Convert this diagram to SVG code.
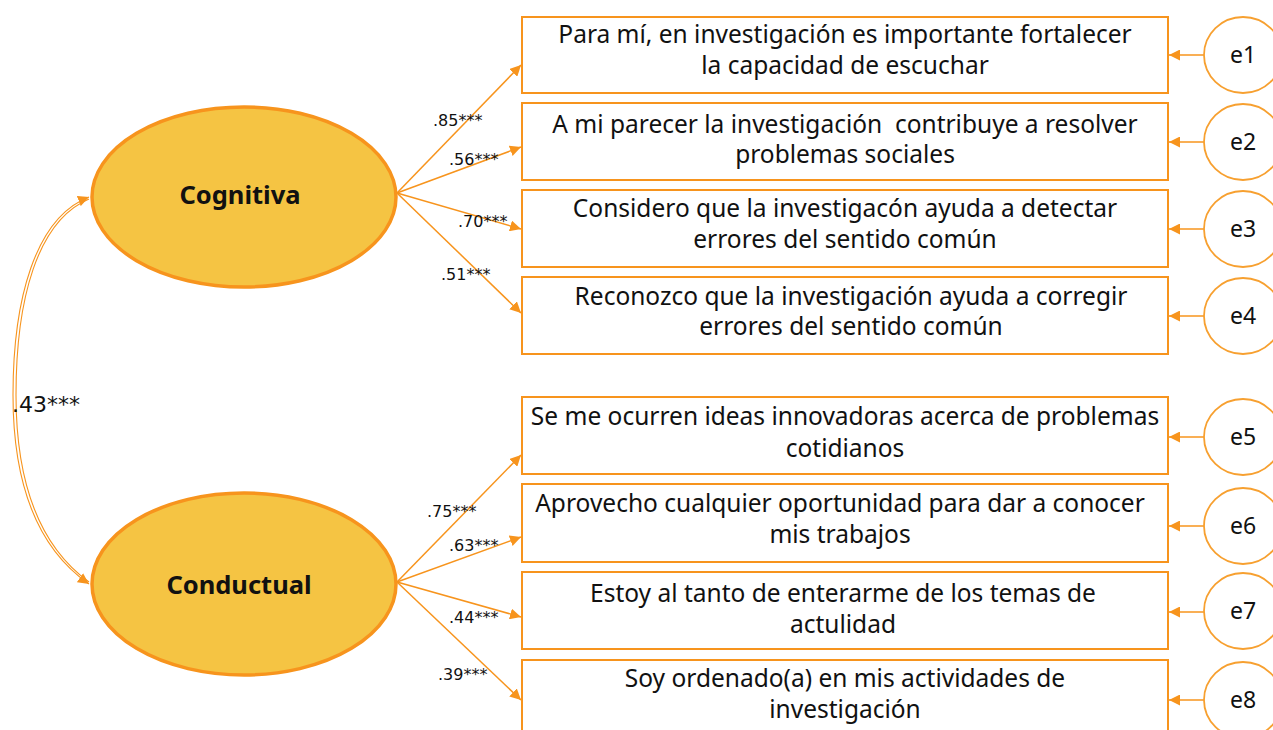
<svg xmlns="http://www.w3.org/2000/svg" width="1273" height="730" viewBox="0 0 1273 730">
<style>
.box{fill:#fff;stroke:#F7941D;stroke-width:2}
.lat{fill:#F5C443;stroke:#F7941D;stroke-width:3.5}
.err{fill:#fff;stroke:#F7A030;stroke-width:1.8}
.con{stroke:#F7941D;stroke-width:1.5;fill:none}
.bt{font-family:"Noto Sans","DejaVu Sans",sans-serif;font-size:24.5px;fill:#111;text-anchor:middle}
.lt{font-family:"Noto Sans","DejaVu Sans",sans-serif;font-size:25.5px;font-weight:bold;fill:#111;text-anchor:middle}
.et{font-family:"Noto Sans","DejaVu Sans",sans-serif;font-size:23px;fill:#111;text-anchor:middle}
.lab{font-family:"DejaVu Sans",sans-serif;font-size:16px;fill:#111}
</style>
<defs>
<marker id="ah" viewBox="0 0 10 10" refX="10" refY="5" markerWidth="11" markerHeight="11" markerUnits="userSpaceOnUse" orient="auto-start-reverse">
<path d="M0,0 L10,5 L0,10 z" fill="#F7941D"/>
</marker>
</defs>
<g id="connectors">
<line class="con" x1="397" y1="193" x2="521" y2="65" marker-end="url(#ah)"/>
<line class="con" x1="397" y1="193" x2="521" y2="147" marker-end="url(#ah)"/>
<line class="con" x1="397" y1="193" x2="521" y2="229" marker-end="url(#ah)"/>
<line class="con" x1="397" y1="193" x2="521" y2="313" marker-end="url(#ah)"/>
<line class="con" x1="397" y1="582" x2="521" y2="455" marker-end="url(#ah)"/>
<line class="con" x1="397" y1="582" x2="521" y2="537" marker-end="url(#ah)"/>
<line class="con" x1="397" y1="582" x2="521" y2="617" marker-end="url(#ah)"/>
<line class="con" x1="397" y1="582" x2="521" y2="700" marker-end="url(#ah)"/>
<line class="con" x1="1204" y1="55" x2="1169" y2="55" marker-end="url(#ah)"/>
<line class="con" x1="1204" y1="142" x2="1169" y2="142" marker-end="url(#ah)"/>
<line class="con" x1="1204" y1="229" x2="1169" y2="229" marker-end="url(#ah)"/>
<line class="con" x1="1204" y1="316" x2="1169" y2="316" marker-end="url(#ah)"/>
<line class="con" x1="1204" y1="437" x2="1169" y2="437" marker-end="url(#ah)"/>
<line class="con" x1="1204" y1="526" x2="1169" y2="526" marker-end="url(#ah)"/>
<line class="con" x1="1204" y1="612" x2="1169" y2="612" marker-end="url(#ah)"/>
<line class="con" x1="1204" y1="700" x2="1169" y2="700" marker-end="url(#ah)"/>
<path d="M89,197 C35,218 13,300 13,395 C13,490 40,550 89,584" stroke="#F7941D" stroke-width="1.1" fill="none" marker-start="url(#ah)" marker-end="url(#ah)"/>
<path d="M89,199 C37,221 16,300 16,395 C16,488 42,548 89,582" stroke="#F7941D" stroke-width="1.1" fill="none"/>
<text class="lab" x="433" y="126">.85***</text>
<text class="lab" x="449" y="165">.56***</text>
<text class="lab" x="458" y="227">.70***</text>
<text class="lab" x="441" y="280">.51***</text>
<text class="lab" x="427" y="517">.75***</text>
<text class="lab" x="449" y="551">.63***</text>
<text class="lab" x="449" y="623">.44***</text>
<text class="lab" x="438" y="680">.39***</text>
<text class="lab" x="12" y="412" style="font-size:22px">.43***</text>
</g>
<g id="Cognitiva">
<ellipse class="lat" cx="244" cy="197" rx="152" ry="90"/>
<text class="lt" x="240" y="204">Cognitiva</text>
</g>
<g id="Conductual">
<ellipse class="lat" cx="244" cy="584" rx="152" ry="91"/>
<text class="lt" x="239" y="594">Conductual</text>
</g>
<g id="item1">
<rect class="box" x="522" y="17" width="646" height="76"/>
<text class="bt" x="845" y="43">Para mí, en investigación es importante fortalecer</text>
<text class="bt" x="845" y="74">la capacidad de escuchar</text>
</g>
<g id="item2">
<rect class="box" x="522" y="103" width="646" height="77"/>
<text class="bt" x="845" y="133" xml:space="preserve">A mi parecer la investigación  contribuye a resolver</text>
<text class="bt" x="845" y="163">problemas sociales</text>
</g>
<g id="item3">
<rect class="box" x="522" y="190" width="646" height="77"/>
<text class="bt" x="845" y="217">Considero que la investigacón ayuda a detectar</text>
<text class="bt" x="845" y="248">errores del sentido común</text>
</g>
<g id="item4">
<rect class="box" x="522" y="277" width="646" height="77"/>
<text class="bt" x="851" y="305">Reconozco que la investigación ayuda a corregir</text>
<text class="bt" x="851" y="335">errores del sentido común</text>
</g>
<g id="item5">
<rect class="box" x="522" y="397" width="646" height="77"/>
<text class="bt" x="845" y="425">Se me ocurren ideas innovadoras acerca de problemas</text>
<text class="bt" x="845" y="457">cotidianos</text>
</g>
<g id="item6">
<rect class="box" x="522" y="484" width="646" height="78"/>
<text class="bt" x="840" y="512">Aprovecho cualquier oportunidad para dar a conocer</text>
<text class="bt" x="840" y="543">mis trabajos</text>
</g>
<g id="item7">
<rect class="box" x="522" y="572" width="646" height="77"/>
<text class="bt" x="843" y="602">Estoy al tanto de enterarme de los temas de</text>
<text class="bt" x="843" y="633">actulidad</text>
</g>
<g id="item8">
<rect class="box" x="522" y="660" width="646" height="80"/>
<text class="bt" x="845" y="687">Soy ordenado(a) en mis actividades de</text>
<text class="bt" x="845" y="718">investigación</text>
</g>
<g id="e1"><ellipse class="err" cx="1243" cy="55" rx="39" ry="38"/><text class="et" x="1243" y="63">e1</text></g>
<g id="e2"><ellipse class="err" cx="1243" cy="142" rx="39" ry="38"/><text class="et" x="1243" y="150">e2</text></g>
<g id="e3"><ellipse class="err" cx="1243" cy="229" rx="39" ry="38"/><text class="et" x="1243" y="237">e3</text></g>
<g id="e4"><ellipse class="err" cx="1243" cy="316" rx="39" ry="38"/><text class="et" x="1243" y="324">e4</text></g>
<g id="e5"><ellipse class="err" cx="1243" cy="437" rx="39" ry="38"/><text class="et" x="1243" y="445">e5</text></g>
<g id="e6"><ellipse class="err" cx="1243" cy="526" rx="39" ry="38"/><text class="et" x="1243" y="534">e6</text></g>
<g id="e7"><ellipse class="err" cx="1243" cy="611" rx="39" ry="38"/><text class="et" x="1243" y="619">e7</text></g>
<g id="e8"><ellipse class="err" cx="1243" cy="700" rx="39" ry="38"/><text class="et" x="1243" y="708">e8</text></g>
</svg>
